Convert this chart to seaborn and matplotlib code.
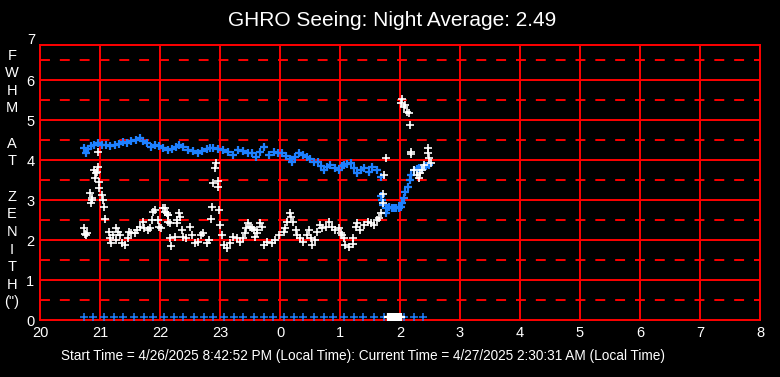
import matplotlib
matplotlib.use('Agg')
import matplotlib.pyplot as plt
import seaborn as sns
import pandas as pd

# hours counted from midnight of the start day (24 = 0h next day)
seeing_hours = [
    20.73, 20.75, 20.77, 20.78, 20.84, 20.86, 20.85, 20.87, 20.90, 20.93,
    20.92, 20.95, 20.97, 20.97, 20.99, 20.98, 21.03, 21.05, 21.07, 21.08,
    21.15, 21.16, 21.19, 21.22, 21.27, 21.30, 21.26, 21.33, 21.36, 21.41,
    21.47, 21.49, 21.52, 21.58, 21.61, 21.66, 21.72, 21.74, 21.80, 21.83,
    21.86, 21.88, 21.92, 21.97, 21.99, 22.02, 22.05, 22.09, 22.13, 22.16,
    22.08, 22.11, 22.14, 22.14, 22.28, 22.31, 22.33, 22.29, 22.17, 22.19,
    22.25, 22.36, 22.39, 22.44, 22.50, 22.53, 22.58, 22.64, 22.69, 22.72,
    22.78, 22.81, 22.87, 22.85, 22.89, 22.96, 22.97, 22.92, 22.94, 22.98,
    23.00, 23.03, 23.06, 23.11, 23.17, 23.22, 23.28, 23.33, 23.39, 23.42,
    23.44, 23.47, 23.50, 23.56, 23.58, 23.61, 23.53, 23.62, 23.67, 23.70,
    23.73, 23.78, 23.87, 23.92, 23.98, 24.06, 24.09, 24.12, 24.16, 24.19,
    24.21, 24.26, 24.28, 24.34, 24.39, 24.45, 24.48, 24.51, 24.53, 24.59,
    24.62, 24.67, 24.70, 24.76, 24.81, 24.87, 24.92, 24.98, 25.02, 25.06,
    25.04, 25.09, 25.15, 25.21, 25.22, 25.26, 25.29, 25.34, 25.40, 25.46,
    25.51, 25.57, 25.62, 25.65, 25.68, 25.71, 25.72, 25.73, 25.77, 26.01,
    26.04, 26.07, 26.09, 26.12, 26.15, 26.16, 26.18, 26.19, 26.23, 26.29,
    26.32, 26.34, 26.37, 26.40, 26.46, 26.47, 26.48, 26.51,
]
seeing_fwhm = [
    2.30, 2.15, 2.12, 2.18, 3.17, 3.04, 2.92, 3.00, 3.75, 3.67,
    3.54, 3.70, 3.83, 4.19, 3.46, 3.29, 3.12, 3.00, 2.83, 2.52,
    2.21, 2.04, 1.92, 2.12, 2.29, 2.21, 2.00, 2.12, 1.92, 1.87,
    2.04, 2.21, 2.17, 2.17, 2.25, 2.33, 2.46, 2.29, 2.25, 2.29,
    2.50, 2.71, 2.75, 2.50, 2.33, 2.29, 2.79, 2.71, 2.62, 2.42,
    2.79, 2.67, 2.62, 2.46, 2.42, 2.67, 2.58, 2.50, 2.04, 1.85,
    2.07, 2.25, 2.08, 2.04, 2.33, 2.12, 1.92, 1.96, 2.12, 2.17,
    1.92, 2.00, 2.83, 2.52, 3.42, 3.48, 3.32, 3.79, 3.93, 2.75,
    2.37, 2.12, 1.87, 1.79, 1.92, 2.08, 2.04, 1.96, 2.04, 2.17,
    2.29, 2.42, 2.33, 2.25, 2.08, 2.17, 2.29, 2.25, 2.42, 2.33,
    1.87, 1.96, 1.92, 2.00, 2.12, 2.21, 2.29, 2.46, 2.67, 2.58,
    2.46, 2.25, 2.12, 2.04, 1.96, 2.12, 2.25, 2.04, 1.87, 2.00,
    2.21, 2.37, 2.29, 2.33, 2.46, 2.33, 2.25, 2.29, 2.17, 2.04,
    2.12, 1.87, 1.83, 1.90, 2.04, 2.33, 2.42, 2.25, 2.37, 2.46,
    2.42, 2.37, 2.50, 2.54, 2.67, 2.92, 3.15, 3.62, 4.06, 5.43,
    5.52, 5.33, 5.37, 5.21, 5.18, 4.87, 4.21, 4.15, 3.75, 3.62,
    3.54, 3.67, 3.75, 3.87, 4.29, 4.17, 4.04, 3.92,
]

avg_hours = [
    20.73, 20.76, 20.80, 20.85, 20.90, 20.97, 21.03, 21.10, 21.17, 21.25,
    21.32, 21.38, 21.45, 21.52, 21.60, 21.66, 21.72, 21.79, 21.85, 21.92,
    21.98, 22.05, 22.13, 22.20, 22.26, 22.31, 22.38, 22.47, 22.55, 22.63,
    22.70, 22.78, 22.84, 22.89, 22.97, 23.05, 23.13, 23.22, 23.30, 23.38,
    23.47, 23.53, 23.60, 23.66, 23.73, 23.81, 23.90, 23.97, 24.03, 24.10,
    24.16, 24.20, 24.25, 24.31, 24.38, 24.45, 24.50, 24.56, 24.64, 24.69,
    24.73, 24.78, 24.83, 24.92, 24.98, 25.03, 25.07, 25.12, 25.18, 25.24,
    25.29, 25.35, 25.40, 25.48, 25.54, 25.62, 25.68, 25.68, 25.70, 25.72,
    25.76, 25.79, 25.82, 25.86, 25.90, 25.94, 25.98, 26.01, 26.04, 26.07,
    26.09, 26.13, 26.17, 26.19, 26.23, 26.28, 26.32, 26.36, 26.40, 26.44,
    26.48,
]
avg_fwhm = [
    4.30, 4.17, 4.28, 4.35, 4.38, 4.42, 4.38, 4.37, 4.36, 4.37,
    4.40, 4.44, 4.42, 4.47, 4.50, 4.54, 4.47, 4.42, 4.33, 4.38,
    4.34, 4.30, 4.25, 4.28, 4.33, 4.37, 4.32, 4.25, 4.22, 4.17,
    4.22, 4.27, 4.30, 4.30, 4.27, 4.25, 4.20, 4.12, 4.25, 4.22,
    4.17, 4.17, 4.08, 4.20, 4.33, 4.12, 4.21, 4.18, 4.17, 4.10,
    4.03, 3.96, 4.07, 4.17, 4.13, 4.08, 4.02, 3.96, 3.96, 3.85,
    3.75, 3.82, 3.88, 3.79, 3.75, 3.85, 3.88, 3.90, 3.92, 3.80,
    3.67, 3.74, 3.79, 3.71, 3.82, 3.75, 3.57, 3.10, 3.00, 2.88,
    2.67, 2.80, 2.83, 2.80, 2.79, 2.80, 2.79, 2.82, 2.92, 3.04,
    3.21, 3.33, 3.50, 3.62, 3.75, 3.78, 3.79, 3.81, 3.83, 3.86,
    3.88,
]

# sample ticks along the bottom (blue) and zero readings (white)
marker_hours = [
    20.73, 20.89, 21.06, 21.23, 21.39, 21.56, 21.73, 21.89, 22.06, 22.23,
    22.39, 22.56, 22.73, 22.89, 23.06, 23.23, 23.39, 23.56, 23.73, 23.89,
    24.06, 24.23, 24.39, 24.56, 24.73, 24.89, 25.06, 25.23, 25.39, 25.56,
    25.73, 25.89, 26.06, 26.23, 26.39,
]
zero_hours = [25.80, 25.83, 25.86, 25.89, 25.92, 25.95, 25.98, 26.01]
baseline = 0.07

x_ticks = list(range(20, 33))
x_labels = ['20', '21', '22', '23', '0', '1', '2', '3', '4', '5', '6', '7', '8']
y_ticks = [0, 1, 2, 3, 4, 5, 6]
y_half = [0.5, 1.5, 2.5, 3.5, 4.5, 5.5, 6.5]

title = 'GHRO Seeing: Night Average: 2.49'
footer = ('Start Time = 4/26/2025 8:42:52 PM (Local Time): '
          'Current Time = 4/27/2025 2:30:31 AM (Local Time)')
ylabel_lines = ['F', 'W', 'H', 'M', '', 'A', 'T', '', 'Z', 'E', 'N', 'I', 'T', 'H', '(")']

RED = '#ff0000'
BLUE = '#1e80ff'

sns.set_style('dark')
plt.rcParams['font.family'] = ['Liberation Sans', 'DejaVu Sans']

fig = plt.figure(figsize=(7.8, 3.77), dpi=100, facecolor='black')
ax = fig.add_axes([40 / 780, 57 / 377, 720 / 780, 275 / 377])
ax.set_facecolor('black')

# grid: solid on whole values, dashed on halves
for y in y_ticks[1:]:
    ax.axhline(y, color=RED, lw=1.4, zorder=1)
for y in y_half:
    ax.axhline(y, color=RED, lw=1.4, dashes=(5.1, 5.1), zorder=1)
for x in x_ticks[1:-1]:
    ax.axvline(x, color=RED, lw=1.4, zorder=1)

seeing = pd.DataFrame({'hour': seeing_hours, 'fwhm': seeing_fwhm})
avg = pd.DataFrame({'hour': avg_hours, 'fwhm': avg_fwhm})
marks = pd.DataFrame({'hour': marker_hours, 'fwhm': baseline})
zeros = pd.DataFrame({'hour': zero_hours, 'fwhm': baseline})

sns.scatterplot(data=avg, x='hour', y='fwhm', marker='+', s=32, color=BLUE,
                linewidth=1.6, ax=ax, zorder=3)
sns.scatterplot(data=seeing, x='hour', y='fwhm', marker='+', s=28, color='white',
                linewidth=1.2, ax=ax, zorder=4)
sns.scatterplot(data=marks, x='hour', y='fwhm', marker='+', s=28, color=BLUE,
                linewidth=1.1, ax=ax, zorder=3, clip_on=False)
sns.scatterplot(data=zeros, x='hour', y='fwhm', marker='+', s=28, color='white',
                linewidth=1.6, ax=ax, zorder=4, clip_on=False)

ax.set_xlim(20, 32)
ax.set_ylim(0, 6.875)
ax.set_xticks(x_ticks)
ax.set_xticklabels(x_labels)
ax.set_yticks(y_ticks)
ax.set_xlabel('')
ax.set_ylabel('')
ax.tick_params(length=0, colors='white', labelsize=10.5)
ax.tick_params(axis='x', pad=4.5)
ax.tick_params(axis='y', pad=4)
ax.text(-5 / 720, 7, '7', transform=ax.get_yaxis_transform(), ha='right',
        va='center', color='white', fontsize=10.5, clip_on=False)
ax.grid(False)
for sp in ax.spines.values():
    sp.set_color(RED)
    sp.set_linewidth(1.4)
    sp.set_visible(True)

fig.text(392 / 780, 1 - 21 / 377, title, ha='center', va='center',
         color='white', fontsize=15)
fig.text(363 / 780, 1 - 356 / 377, footer, ha='center', va='center',
         color='white', fontsize=9.8)
fig.text(12 / 780, 1 - 179 / 377, '\n'.join(ylabel_lines),
         ha='center', va='center', color='white', fontsize=10.5, linespacing=1.33)

fig.savefig('out.png', dpi=100, facecolor='black')
